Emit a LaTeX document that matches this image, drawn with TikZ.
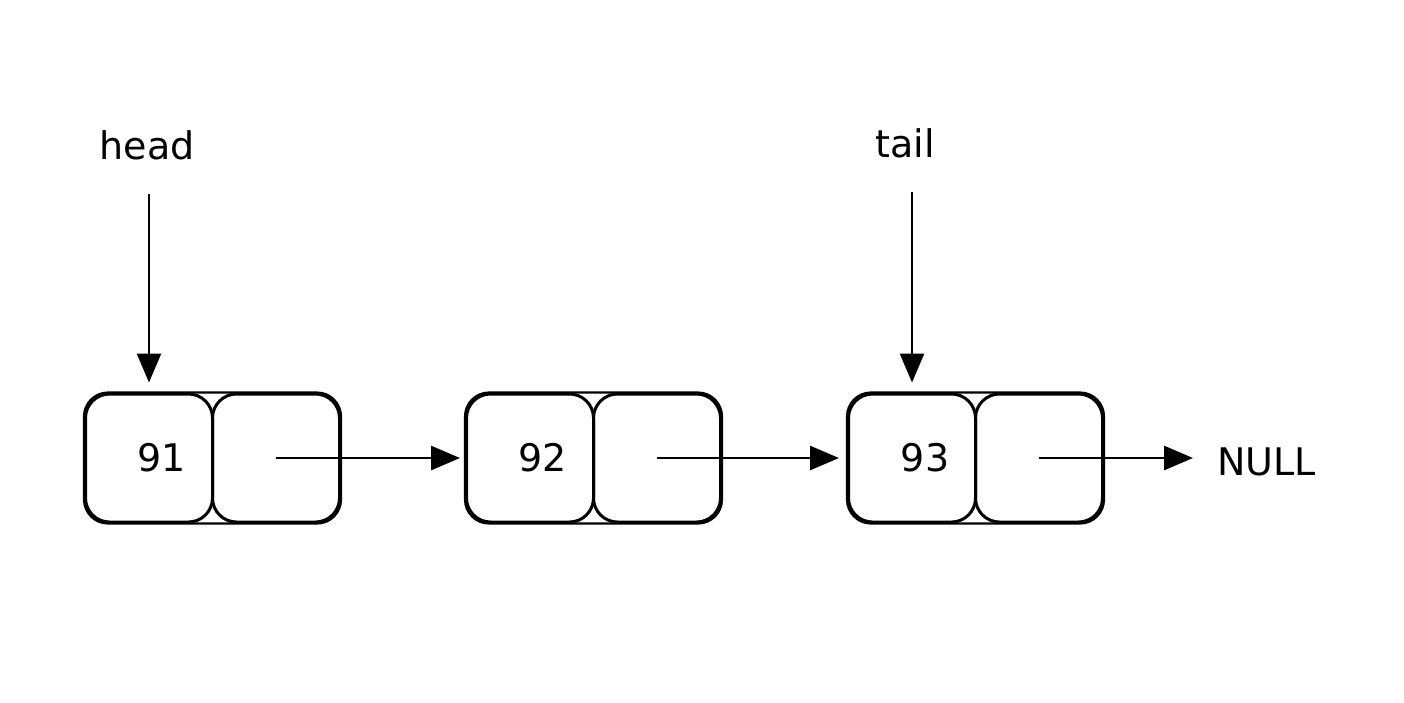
\documentclass[tikz,border=0pt]{standalone}
\usepackage{fontspec}
\setmainfont{DejaVu Sans}
\usetikzlibrary{arrows.meta}
\begin{document}
\begin{tikzpicture}[x=1pt,y=-1pt,
  cell/.style={draw, line width=3pt, rounded corners=24pt, minimum width=127pt, minimum height=128pt, inner sep=0pt},
  frame/.style={draw, line width=2.2pt, rounded corners=24pt},
  link/.style={line width=2.8pt, -{Triangle[length=29pt,width=24pt]}},
  lbl/.style={font=\fontsize{38}{44}\selectfont, inner sep=2pt}
]
\useasboundingbox (0,0) rectangle (1404,702);
\fill[white] (0,0) rectangle (1404,702);

% list cells: value part and pointer part
\node[cell, lbl] (v1) at (149,458) {\hspace*{26pt}91};
\node[cell] (p1) at (276,458) {};
\node[cell, lbl] (v2) at (530,458) {\hspace*{26pt}92};
\node[cell] (p2) at (657,458) {};
\node[cell, lbl] (v3) at (912,458) {\hspace*{26pt}93};
\node[cell] (p3) at (1039,458) {};
\draw[frame] (v1.north west) rectangle (p1.south east);
\draw[frame] (v2.north west) rectangle (p2.south east);
\draw[frame] (v3.north west) rectangle (p3.south east);

% labels
\node[lbl] (head) at (147,145) {head};
\node[lbl] (tail) at (905,143) {tail};
\node[lbl, anchor=west] (null) at (1215,462) {NULL};

% pointer arrows
\draw[link, shorten <=32pt, shorten >=10pt] (head.south -| v1.north) -- (v1.north);
\draw[link, shorten <=32pt, shorten >=10pt] (tail.south -| v3.north) -- (v3.north);
\draw[link, shorten >=5pt] (p1.center) -- (v2.west);
\draw[link, shorten >=8pt] (p2.center) -- (v3.west);
\draw[link, shorten >=22pt] (p3.center) -- (p3.center -| null.west);
\end{tikzpicture}
\end{document}
